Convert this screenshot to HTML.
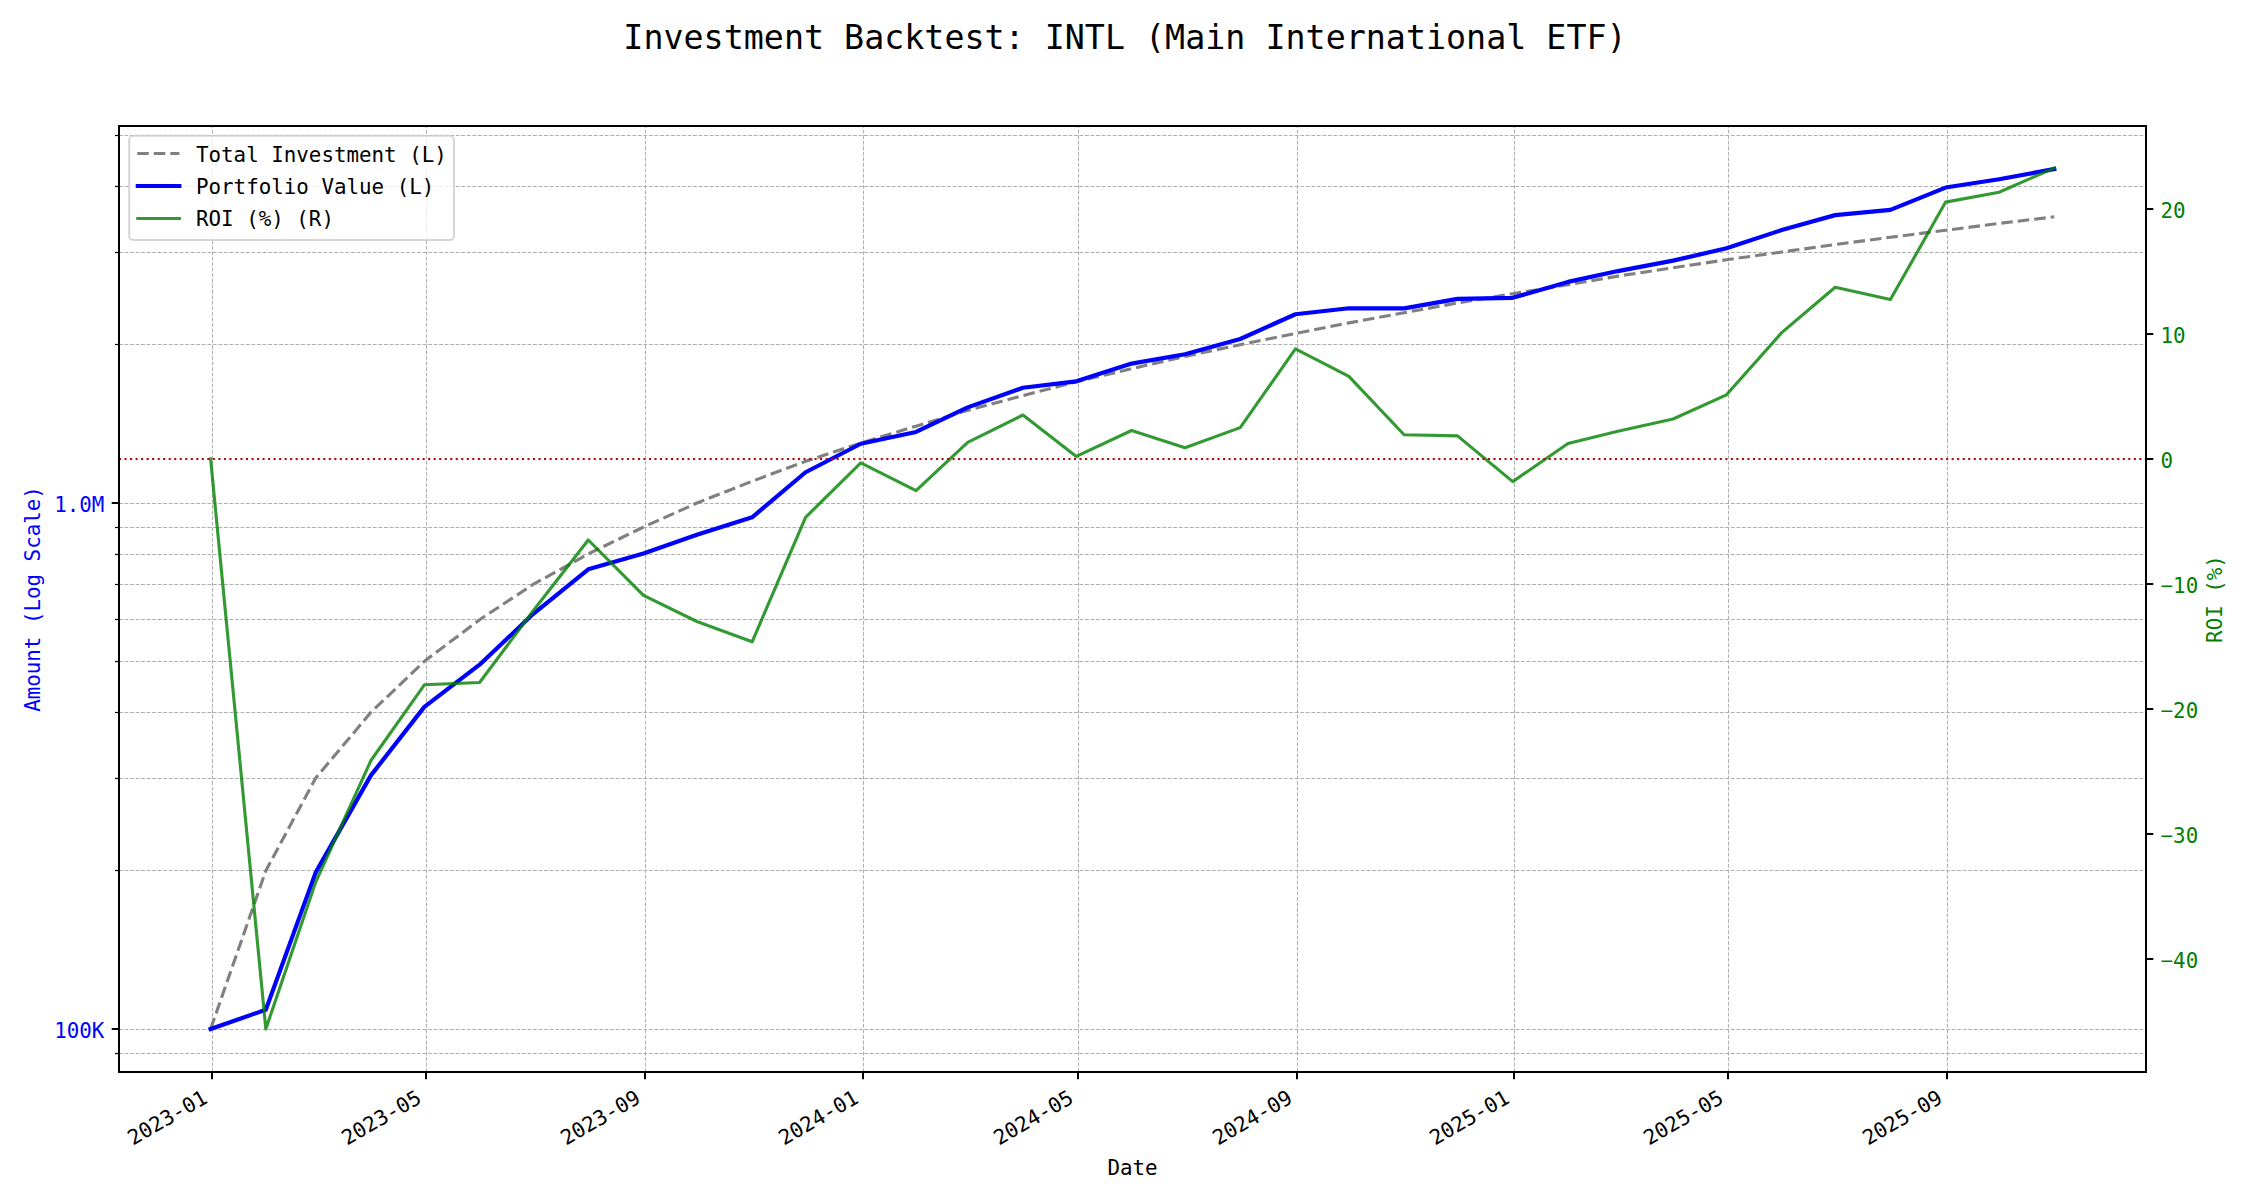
<!DOCTYPE html><html><head><meta charset="utf-8"><title>Investment Backtest: INTL</title>
<style>html,body{margin:0;padding:0;background:#fff;overflow:hidden}svg{display:block}text{font-family:"DejaVu Sans Mono", "Liberation Mono", monospace;}</style></head><body>
<svg width="2250" height="1200" viewBox="0 0 2250 1200">
<rect x="0" y="0" width="2250" height="1200" fill="#fff"/>
<g stroke="#b0b0b0" stroke-width="1.04" stroke-dasharray="3.85 1.67" fill="none">
<line x1="119.0" y1="1053.50" x2="2146.0" y2="1053.50"/>
<line x1="119.0" y1="1029.50" x2="2146.0" y2="1029.50"/>
<line x1="119.0" y1="870.50" x2="2146.0" y2="870.50"/>
<line x1="119.0" y1="778.50" x2="2146.0" y2="778.50"/>
<line x1="119.0" y1="712.50" x2="2146.0" y2="712.50"/>
<line x1="119.0" y1="661.50" x2="2146.0" y2="661.50"/>
<line x1="119.0" y1="619.50" x2="2146.0" y2="619.50"/>
<line x1="119.0" y1="584.50" x2="2146.0" y2="584.50"/>
<line x1="119.0" y1="554.50" x2="2146.0" y2="554.50"/>
<line x1="119.0" y1="527.50" x2="2146.0" y2="527.50"/>
<line x1="119.0" y1="503.50" x2="2146.0" y2="503.50"/>
<line x1="119.0" y1="344.50" x2="2146.0" y2="344.50"/>
<line x1="119.0" y1="252.50" x2="2146.0" y2="252.50"/>
<line x1="119.0" y1="186.50" x2="2146.0" y2="186.50"/>
<line x1="119.0" y1="135.50" x2="2146.0" y2="135.50"/>
<line x1="212.50" y1="1072.0" x2="212.50" y2="126.0"/>
<line x1="426.50" y1="1072.0" x2="426.50" y2="126.0"/>
<line x1="645.50" y1="1072.0" x2="645.50" y2="126.0"/>
<line x1="863.50" y1="1072.0" x2="863.50" y2="126.0"/>
<line x1="1078.50" y1="1072.0" x2="1078.50" y2="126.0"/>
<line x1="1297.50" y1="1072.0" x2="1297.50" y2="126.0"/>
<line x1="1514.50" y1="1072.0" x2="1514.50" y2="126.0"/>
<line x1="1728.50" y1="1072.0" x2="1728.50" y2="126.0"/>
<line x1="1947.50" y1="1072.0" x2="1947.50" y2="126.0"/>
</g>
<path d="M210.62,1029.00 L265.84,870.66 L315.72,778.03 L370.94,712.32 L424.38,661.34 L479.60,619.69 L533.04,584.48 L588.26,553.97 L643.48,527.07 L696.92,503.00 L752.14,481.23 L805.58,461.35 L860.80,443.07 L916.02,426.14 L967.68,410.38 L1022.90,395.63 L1076.34,381.78 L1131.56,368.73 L1185.00,356.38 L1240.22,344.66 L1295.44,333.51 L1348.88,322.89 L1404.10,312.73 L1457.54,303.01 L1512.76,293.68 L1567.98,284.72 L1617.85,276.10 L1673.07,267.79 L1726.51,259.78 L1781.73,252.03 L1835.17,244.54 L1890.39,237.29 L1945.61,230.26 L1999.05,223.44 L2054.27,216.82" fill="none" stroke="#808080" stroke-width="3.125" stroke-dasharray="11.56 5.0" stroke-linejoin="round"/>
<path d="M210.62,1029.00 L265.84,1009.73 L315.72,872.40 L370.94,775.37 L424.38,706.85 L479.60,664.69 L533.04,614.10 L588.26,569.28 L643.48,553.44 L696.92,534.81 L752.14,517.34 L805.58,472.26 L860.80,443.76 L916.02,431.99 L967.68,407.36 L1022.90,387.73 L1076.34,381.31 L1131.56,363.58 L1185.00,354.32 L1240.22,338.99 L1295.44,314.23 L1348.88,308.27 L1404.10,308.33 L1457.54,298.83 L1512.76,297.85 L1567.98,281.91 L1617.85,271.08 L1673.07,260.60 L1726.51,248.34 L1781.73,230.03 L1835.17,215.13 L1890.39,209.87 L1945.61,187.56 L1999.05,179.25 L2054.27,169.01" fill="none" stroke="#0000ff" stroke-width="4.17" stroke-linecap="square" stroke-linejoin="round"/>
<path d="M210.62,459.00 L265.84,1029.00 L315.72,882.00 L370.94,760.50 L424.38,684.80 L479.60,682.50 L533.04,611.00 L588.26,540.00 L643.48,595.30 L696.92,621.50 L752.14,641.80 L805.58,517.30 L860.80,462.80 L916.02,490.60 L967.68,442.40 L1022.90,415.00 L1076.34,456.40 L1131.56,430.50 L1185.00,447.70 L1240.22,427.60 L1295.44,348.90 L1348.88,376.40 L1404.10,434.70 L1457.54,435.90 L1512.76,481.60 L1567.98,443.50 L1617.85,431.20 L1673.07,419.00 L1726.51,394.80 L1781.73,332.60 L1835.17,287.20 L1890.39,299.60 L1945.61,202.10 L1999.05,192.20 L2054.27,168.00" fill="none" stroke="#008000" stroke-opacity="0.8" stroke-width="3.125" stroke-linecap="square" stroke-linejoin="round"/>
<line x1="119.0" y1="459.0" x2="2146.0" y2="459.0" stroke="#c00000" stroke-width="2.08" stroke-dasharray="2.08 3.44"/>
<rect x="119.0" y="126.0" width="2027.0" height="946.0" fill="none" stroke="#000" stroke-width="2" stroke-linejoin="miter"/>
<g stroke="#000" stroke-width="2">
<line x1="111.71" y1="1029.00" x2="119.0" y2="1029.00"/>
<line x1="111.71" y1="503.00" x2="119.0" y2="503.00"/>
</g><g stroke="#000" stroke-width="1.25">
<line x1="115.00" y1="1053.50" x2="119.0" y2="1053.50"/>
<line x1="115.00" y1="870.50" x2="119.0" y2="870.50"/>
<line x1="115.00" y1="778.50" x2="119.0" y2="778.50"/>
<line x1="115.00" y1="712.50" x2="119.0" y2="712.50"/>
<line x1="115.00" y1="661.50" x2="119.0" y2="661.50"/>
<line x1="115.00" y1="619.50" x2="119.0" y2="619.50"/>
<line x1="115.00" y1="584.50" x2="119.0" y2="584.50"/>
<line x1="115.00" y1="554.50" x2="119.0" y2="554.50"/>
<line x1="115.00" y1="527.50" x2="119.0" y2="527.50"/>
<line x1="115.00" y1="344.50" x2="119.0" y2="344.50"/>
<line x1="115.00" y1="252.50" x2="119.0" y2="252.50"/>
<line x1="115.00" y1="186.50" x2="119.0" y2="186.50"/>
<line x1="115.00" y1="135.50" x2="119.0" y2="135.50"/>
</g><g stroke="#000" stroke-width="2">
<line x1="2146.0" y1="959.00" x2="2153.29" y2="959.00"/>
<line x1="2146.0" y1="834.00" x2="2153.29" y2="834.00"/>
<line x1="2146.0" y1="709.00" x2="2153.29" y2="709.00"/>
<line x1="2146.0" y1="584.00" x2="2153.29" y2="584.00"/>
<line x1="2146.0" y1="459.00" x2="2153.29" y2="459.00"/>
<line x1="2146.0" y1="334.00" x2="2153.29" y2="334.00"/>
<line x1="2146.0" y1="209.00" x2="2153.29" y2="209.00"/>
<line x1="212.00" y1="1072.0" x2="212.00" y2="1079.29"/>
<line x1="426.00" y1="1072.0" x2="426.00" y2="1079.29"/>
<line x1="645.00" y1="1072.0" x2="645.00" y2="1079.29"/>
<line x1="863.00" y1="1072.0" x2="863.00" y2="1079.29"/>
<line x1="1078.00" y1="1072.0" x2="1078.00" y2="1079.29"/>
<line x1="1297.00" y1="1072.0" x2="1297.00" y2="1079.29"/>
<line x1="1514.00" y1="1072.0" x2="1514.00" y2="1079.29"/>
<line x1="1728.00" y1="1072.0" x2="1728.00" y2="1079.29"/>
<line x1="1947.00" y1="1072.0" x2="1947.00" y2="1079.29"/>
</g>
<g font-size="20.83" fill="#0000ff" text-anchor="end">
<text x="104.42" y="511.90">1.0M</text>
<text x="104.42" y="1037.90">100K</text>
</g>
<g font-size="20.83" fill="#008000">
<text x="2160.58" y="967.90">−40</text>
<text x="2160.58" y="842.90">−30</text>
<text x="2160.58" y="717.90">−20</text>
<text x="2160.58" y="592.90">−10</text>
<text x="2160.58" y="467.90">0</text>
<text x="2160.58" y="342.90">10</text>
<text x="2160.58" y="217.90">20</text>
</g>
<g font-size="20.83" fill="#000" text-anchor="end">
<text transform="translate(208.90,1101.90) rotate(-30)" x="0" y="0">2023-01</text>
<text transform="translate(422.90,1101.90) rotate(-30)" x="0" y="0">2023-05</text>
<text transform="translate(641.90,1101.90) rotate(-30)" x="0" y="0">2023-09</text>
<text transform="translate(859.90,1101.90) rotate(-30)" x="0" y="0">2024-01</text>
<text transform="translate(1074.90,1101.90) rotate(-30)" x="0" y="0">2024-05</text>
<text transform="translate(1293.90,1101.90) rotate(-30)" x="0" y="0">2024-09</text>
<text transform="translate(1510.90,1101.90) rotate(-30)" x="0" y="0">2025-01</text>
<text transform="translate(1724.90,1101.90) rotate(-30)" x="0" y="0">2025-05</text>
<text transform="translate(1943.90,1101.90) rotate(-30)" x="0" y="0">2025-09</text>
</g>
<text x="1132.50" y="1174.7" font-size="20.83" text-anchor="middle" fill="#000">Date</text>
<text transform="translate(40,599.00) rotate(-90)" font-size="20.83" text-anchor="middle" fill="#0000ff">Amount (Log Scale)</text>
<text transform="translate(2222,599.00) rotate(-90)" font-size="20.83" text-anchor="middle" fill="#008000">ROI (%)</text>
<rect x="129.2" y="135.7" width="324.80" height="104.30" rx="4.2" ry="4.2" fill="#fff" fill-opacity="0.8" stroke="#cccccc" stroke-opacity="0.8" stroke-width="2.08"/>
<line x1="137.2" y1="153.5" x2="179.4" y2="153.5" stroke="#808080" stroke-width="3" stroke-dasharray="11.56 5.0"/>
<text x="196.0" y="161.6" font-size="20.83" fill="#000">Total Investment (L)</text>
<line x1="137.7" y1="186.0" x2="179.4" y2="186.0" stroke="#0000ff" stroke-width="4" stroke-linecap="square"/>
<text x="196.0" y="193.8" font-size="20.83" fill="#000">Portfolio Value (L)</text>
<line x1="137.7" y1="218.5" x2="179.4" y2="218.5" stroke="#008000" stroke-opacity="0.8" stroke-width="3" stroke-linecap="square"/>
<text x="196.0" y="226.1" font-size="20.83" fill="#000">ROI (%) (R)</text>
<text x="1125" y="48.9" font-size="33.33" text-anchor="middle" fill="#000">Investment Backtest: INTL (Main International ETF)</text>
</svg></body></html>
